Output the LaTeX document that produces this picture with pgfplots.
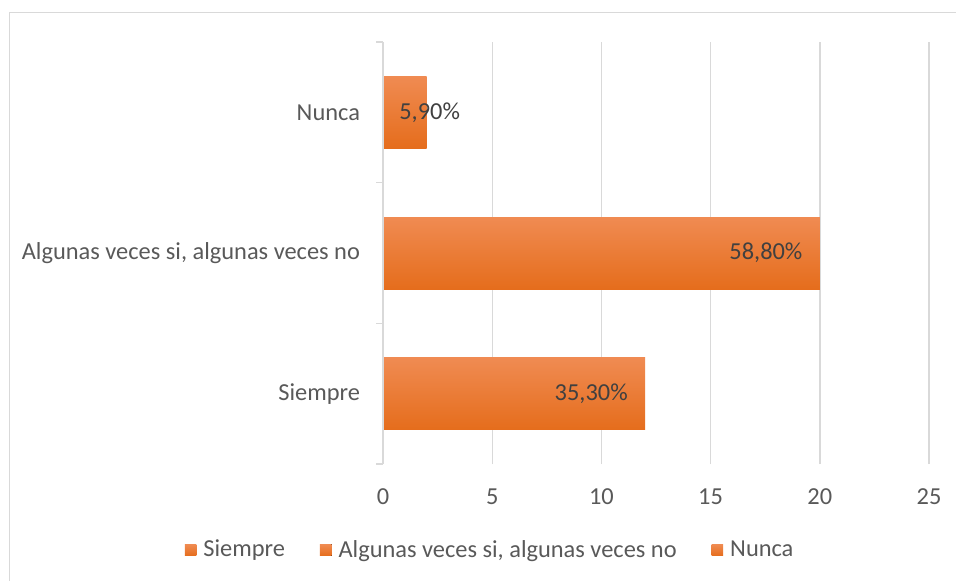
\documentclass[border=0pt]{standalone}
\usepackage{fontspec}
\setmainfont{Carlito}
\usepackage{pgfplots}
\pgfplotsset{compat=1.18}
\definecolor{txt}{HTML}{595959}
\definecolor{lbl}{HTML}{404040}
\definecolor{gridc}{HTML}{D9D9D9}
\definecolor{orTop}{HTML}{F08B52}
\definecolor{orMid}{HTML}{F47D2F}
\definecolor{orBot}{HTML}{E56D1C}
\newcommand\fs{\fontsize{12.2}{14.6}\selectfont}

\begin{document}
\begin{tikzpicture}[x=1pt,y=1pt]
\useasboundingbox (0,0) rectangle (478,290);
\draw[gridc, line width=0.7pt] (4.75,-10) rectangle (490,283.75);
\begin{axis}[
  at={(191.5pt,58pt)}, anchor=south west,
  width=273pt, height=211pt, scale only axis,
  xbar, bar width=36pt, bar shift=0pt,
  xmin=0, xmax=25, ymin=-0.5, ymax=2.5,
  axis line style={draw=none},
  xtick={0,5,...,25}, xtick pos=bottom,
  ytick={0,1,2}, ytick pos=left,
  yticklabels={Siempre,{Algunas veces si, algunas veces no},Nunca},
  minor ytick={-0.5,0.5,1.5,2.5},
  major tick length=0pt, minor tick length=3.5pt, tick align=outside,
  minor tick style={gridc, line width=0.7pt},
  xmajorgrids, grid style={gridc, line width=0.7pt},
  /pgf/number format/assume math mode=true,
  tick label style={font=\fs, text=txt},
  yticklabel style={xshift=-8pt},
  xticklabel style={yshift=-9pt},
  legend style={at={(0.198,-0.204)}, anchor=center, draw=none, fill=none,
    legend columns=3, font=\fs, text=txt,
    /tikz/every odd column/.append style={column sep=1.5pt},
    /tikz/every even column/.append style={column sep=15.5pt}},
  legend image code/.code={\fill[#1] (0pt,-2.9pt) rectangle (5.8pt,2.9pt);},
]
\addplot[draw=none, top color=orTop, middle color=orMid, bottom color=orBot] coordinates {(12,0)};
\addplot[draw=none, top color=orTop, middle color=orMid, bottom color=orBot] coordinates {(20,1)};
\addplot[draw=none, top color=orTop, middle color=orMid, bottom color=orBot] coordinates {(2,2)};
\legend{Siempre, {Algunas veces si, algunas veces no}, Nunca}
\draw[gridc, line width=0.7pt] (axis cs:0,-0.5) -- (axis cs:0,2.5);
\node[anchor=east, inner sep=0pt, font=\fs, text=lbl] at (axis cs:12,0) [xshift=-8.5pt] {35,30\%};
\node[anchor=east, inner sep=0pt, font=\fs, text=lbl] at (axis cs:20,1) [xshift=-8.5pt] {58,80\%};
\node[anchor=west, inner sep=0pt, font=\fs, text=lbl] at (axis cs:0.73,2) {5,90\%};
\end{axis}
\end{tikzpicture}
\end{document}
